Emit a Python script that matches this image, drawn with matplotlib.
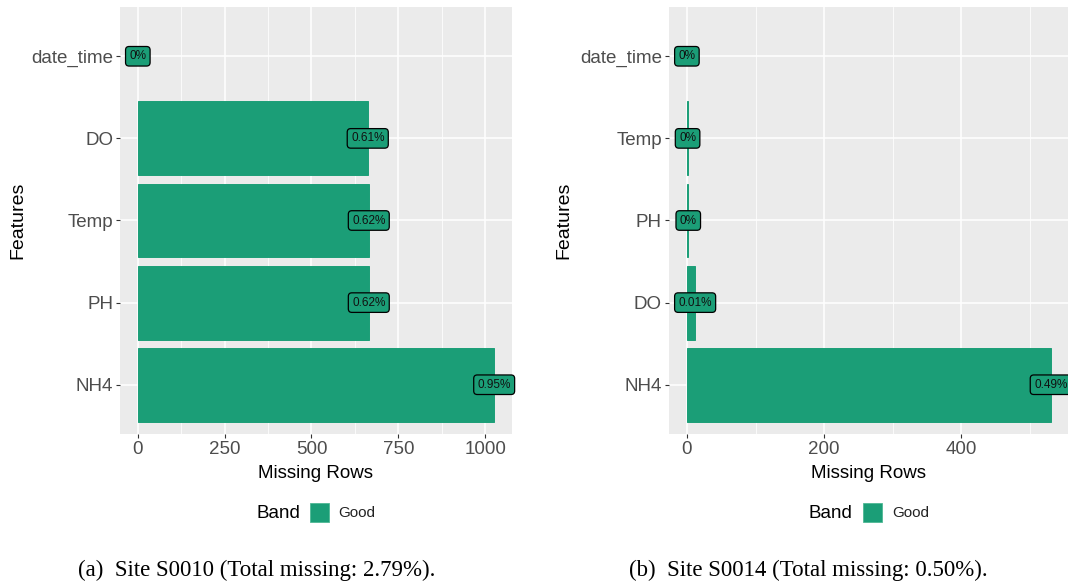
import matplotlib.pyplot as plt
from matplotlib.patches import Rectangle
from matplotlib.ticker import MultipleLocator

# Site S0010: missing rows per feature, listed top to bottom
features_a = ["date_time", "DO", "Temp", "PH", "NH4"]
missing_a = [0, 662, 665, 665, 1026]
n_rows_a = 107900

# Site S0014
features_b = ["date_time", "Temp", "PH", "DO", "NH4"]
missing_b = [0, 1, 2, 12, 530]
n_rows_b = 108000

captions = ["(a)  Site S0010 (Total missing: 2.79%).",
            "(b)  Site S0014 (Total missing: 0.50%)."]

GOOD = "#1B9E77"
W, H = 1068, 585

plt.rcParams["font.family"] = ["Liberation Sans", "DejaVu Sans"]

fig = plt.figure(figsize=(W / 100, H / 100), dpi=100)


def pct_label(rows, total):
    return f"{round(rows / total * 100, 2):g}%"


def draw_panel(ax, features, missing, total, major, minor):
    pos = list(range(len(features)))
    # zero-height bars get no outline so they stay invisible
    edges = [GOOD if m > 0 else "none" for m in missing]
    ax.barh(pos, missing, height=0.9, color=GOOD, edgecolor=edges,
            linewidth=0.7, zorder=2)
    for p, m in zip(pos, missing):
        ax.text(m, p, pct_label(m, total), ha="center", va="center",
                fontsize=8.5, color="#111111", zorder=4, clip_on=False,
                bbox=dict(boxstyle="round,pad=0.32,rounding_size=0.3",
                          fc=GOOD, ec="black", lw=0.9))

    top = max(missing)
    ax.set_xlim(-0.05 * top, 1.05 * top)
    ax.set_ylim(len(features) - 0.4, -0.6)
    ax.set_yticks(pos)
    ax.set_yticklabels(features)
    ax.xaxis.set_major_locator(MultipleLocator(major))
    ax.xaxis.set_minor_locator(MultipleLocator(minor))

    ax.set_facecolor("#EBEBEB")
    ax.set_axisbelow(True)
    ax.grid(which="major", color="white", linewidth=1.1)
    ax.grid(which="minor", axis="x", color="white", linewidth=0.55)
    for s in ax.spines.values():
        s.set_visible(False)
    ax.tick_params(which="major", length=3, width=0.8, color="#333333",
                   labelsize=13.5, labelcolor="#4D4D4D", pad=2)
    ax.tick_params(which="minor", length=0)

    ax.set_xlabel("Missing Rows", fontsize=13.5, color="black", va="center")
    ax.xaxis.set_label_coords(0.5, -(474 - 434) / 427)
    ax.set_ylabel("Features", fontsize=14, color="black", va="center")


ax1 = fig.add_axes([120 / W, 1 - 434 / H, (512 - 120) / W, 427 / H])
draw_panel(ax1, features_a, missing_a, n_rows_a, 250, 125)
ax1.yaxis.set_label_coords((18 - 120) / 392, 0.5)

ax2 = fig.add_axes([668.7 / W, 1 - 434 / H, (1068.9 - 668.7) / W, 427 / H])
draw_panel(ax2, features_b, missing_b, n_rows_b, 200, 100)
ax2.yaxis.set_label_coords((564 - 668.7) / 400.2, 0.5)

# "Band" legend under each panel
for band_x, key_x, good_x in [(256, 310, 338), (808, 863, 892)]:
    fig.text(band_x / W, 1 - 513 / H, "Band", fontsize=13.5, color="black",
             ha="left", va="center")
    fig.add_artist(Rectangle((key_x / W, 1 - 522 / H), 19 / W, 19 / H,
                             transform=fig.transFigure, fc=GOOD,
                             ec="#4fb894", lw=0.6))
    fig.text(good_x / W, 1 - 513 / H, "Good", fontsize=11, color="#222222",
             ha="left", va="center")

# sub-figure captions
for cx, cap in zip([257, 808], captions):
    fig.text(cx / W, 1 - 570 / H, cap, fontsize=16.5, ha="center",
             va="center", family=["Liberation Serif", "DejaVu Serif"])

fig.savefig("out.png", dpi=100)
